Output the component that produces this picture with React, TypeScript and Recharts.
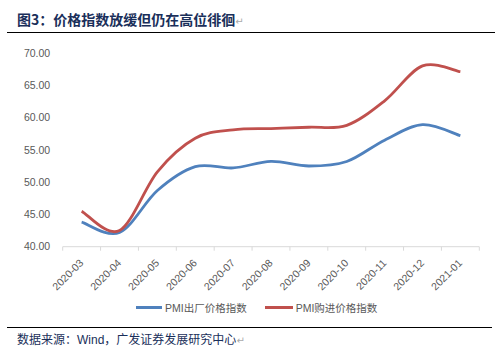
import React from 'react';
import { LineChart, Line, XAxis, YAxis, Legend } from 'recharts';

const months = ['2020-03', '2020-04', '2020-05', '2020-06', '2020-07', '2020-08', '2020-09', '2020-10', '2020-11', '2020-12', '2021-01'];
const outputPrice = [43.8, 42.2, 48.7, 52.4, 52.2, 53.2, 52.5, 53.2, 56.5, 58.9, 57.2];
const inputPrice = [45.5, 42.5, 51.6, 56.8, 58.1, 58.3, 58.5, 58.8, 62.6, 68.0, 67.1];
const yTicks = [40, 45, 50, 55, 60, 65, 70];

const chartData = months.map((m, i) => ({ idx: i, month: m, out: outputPrice[i], inp: inputPrice[i] }));

// label ticks on the categories, plain tick marks on the boundaries between them
const xTicks: number[] = [];
for (let i = 0; i <= months.length; i++) {
    xTicks.push(i - 0.5);
    if (i < months.length) xTicks.push(i);
}

const LATIN = '"Liberation Sans", Arial, "Noto Sans CJK SC", sans-serif';
const NAVY = '#1a2f5a';

// excel-like smoothing (catmull-rom, passes through every point)
const smoothCurve = (context: any) => {
    let pts: number[][] = [];
    return {
        areaStart() {},
        areaEnd() {},
        lineStart() { pts = []; },
        point(x: number, y: number) { pts.push([+x, +y]); },
        lineEnd() {
            const n = pts.length;
            if (!n) return;
            context.moveTo(pts[0][0], pts[0][1]);
            for (let i = 0; i < n - 1; i++) {
                const p0 = pts[i - 1] || pts[i];
                const p1 = pts[i];
                const p2 = pts[i + 1];
                const p3 = pts[i + 2] || p2;
                context.bezierCurveTo(
                    p1[0] + (p2[0] - p0[0]) / 6, p1[1] + (p2[1] - p0[1]) / 6,
                    p2[0] - (p3[0] - p1[0]) / 6, p2[1] - (p3[1] - p1[1]) / 6,
                    p2[0], p2[1]
                );
            }
        },
    };
};

const XTick = (props: any) => {
    const { x, y, payload } = props;
    const v = payload.value;
    if (!Number.isInteger(v)) {
        return <line x1={x} y1={y - 4} x2={x} y2={y} stroke="#d9d9d9" strokeWidth={1} />;
    }
    const tx = x + 2.5;
    const ty = y + 13;
    return (
        <text x={tx} y={ty} transform={`rotate(-45, ${tx}, ${ty})`} textAnchor="end" fill="#595959" fontSize={10.5} fontFamily={LATIN}>
            {months[v]}
        </text>
    );
};

const renderLegend = () => (
    <div style={{ display: 'flex', alignItems: 'center', fontFamily: LATIN, fontSize: 10.5, color: '#595959', whiteSpace: 'nowrap' }}>
        <span style={{ display: 'inline-block', width: 26, height: 3, background: '#4f81bd', marginRight: 3 }} />
        <span style={{ marginRight: 18 }}>PMI出厂价格指数</span>
        <span style={{ display: 'inline-block', width: 28, height: 3, background: '#c0504d', marginRight: 3 }} />
        <span>PMI购进价格指数</span>
    </div>
);

export default function App() {
    return (
        <div style={{ position: 'absolute', left: 0, top: 0, width: 495, height: 352, background: '#fff', overflow: 'hidden' }}>
            <div style={{ position: 'absolute', left: 17, top: 10, fontFamily: '"Noto Sans CJK SC", sans-serif', fontWeight: 'bold', fontSize: 14, lineHeight: '18px', color: NAVY, whiteSpace: 'nowrap' }}>
                图3：价格指数放缓但仍在高位徘徊<span style={{ color: '#aaa', fontWeight: 'normal', fontSize: 10, fontFamily: '"DejaVu Sans"' }}>↵</span>
            </div>
            <div style={{ position: 'absolute', left: 7, top: 32, width: 488, height: 1, background: '#000' }} />

            <LineChart width={495} height={352} data={chartData} margin={{ top: 53, right: 15.7, left: 0, bottom: 65.3 }} style={{ position: 'absolute', left: 0, top: 0 }}>
                <XAxis
                    dataKey="idx"
                    type="number"
                    domain={[-0.5, months.length - 0.5]}
                    ticks={xTicks}
                    interval={0}
                    height={40}
                    tickSize={4}
                    tickMargin={0}
                    tickLine={false}
                    axisLine={{ stroke: '#d9d9d9' }}
                    tick={<XTick />}
                />
                <YAxis
                    domain={[40, 70]}
                    ticks={yTicks}
                    width={62.7}
                    axisLine={false}
                    tickLine={false}
                    tickSize={0}
                    tickMargin={12.5}
                    tickFormatter={(v: number) => v.toFixed(2)}
                    tick={{ fill: '#595959', fontSize: 10.5, fontFamily: LATIN }}
                />
                <Legend
                    content={renderLegend}
                    layout="horizontal"
                    align="center"
                    verticalAlign="middle"
                    wrapperStyle={{ left: 136, top: 300, width: 300, height: 16 }}
                />
                <Line dataKey="out" type={smoothCurve as any} stroke="#4f81bd" strokeWidth={2.8} dot={false} isAnimationActive={false} />
                <Line dataKey="inp" type={smoothCurve as any} stroke="#c0504d" strokeWidth={2.8} dot={false} isAnimationActive={false} />
            </LineChart>

            <div style={{ position: 'absolute', left: 7, top: 327, width: 485, height: 1, background: '#000' }} />
            <div style={{ position: 'absolute', left: 17, top: 331, fontFamily: '"Noto Sans CJK SC", sans-serif', fontSize: 12, lineHeight: '15px', color: NAVY, whiteSpace: 'nowrap' }}>
                数据来源：<span style={{ fontFamily: LATIN }}>Wind</span>，广发证券发展研究中心<span style={{ color: '#aaa', fontSize: 10, fontFamily: '"DejaVu Sans"' }}>↵</span>
            </div>
        </div>
    );
}
